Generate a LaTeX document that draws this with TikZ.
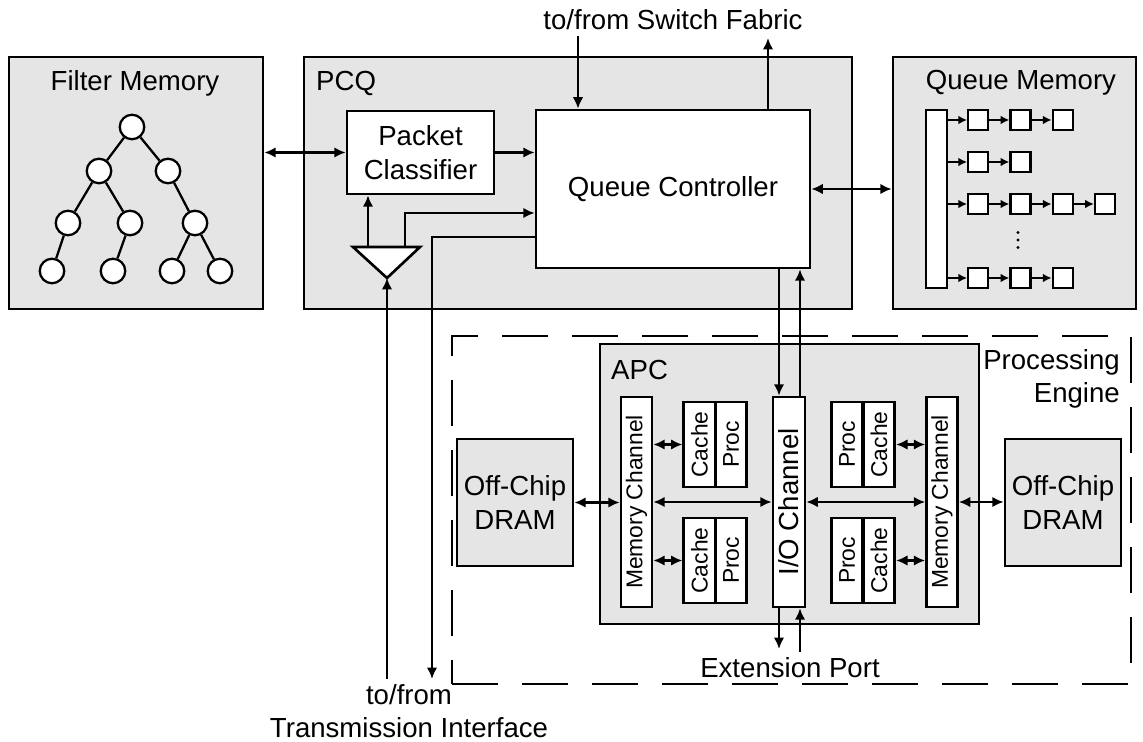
\documentclass[tikz,border=0pt]{standalone}
\usepackage{fontspec}
\setmainfont{Liberation Sans}
\usetikzlibrary{arrows.meta}

\begin{document}
\begin{tikzpicture}[
    font=\fontsize{15.7}{19}\selectfont,
    line width=1.4pt,
    region/.style={draw, fill=PanelGray, line width=1.5pt, inner sep=0pt, align=center},
    block/.style={draw, fill=white, line width=1.5pt, inner sep=0pt, align=center},
    tag/.style={inner sep=0pt},
    channel/.style={block, minimum width=0.62cm, minimum height=4.20cm},
    core/.style={block, font=\fontsize{13}{15}\selectfont, minimum width=0.63cm, minimum height=1.70cm},
    leaf/.style={circle, draw, fill=white, line width=1.3pt, minimum size=0.49cm, inner sep=0pt},
    cell/.style={draw, fill=white, line width=1.3pt, minimum size=0.40cm, inner sep=0pt},
    link/.style={-{Latex[length=6.5pt, width=6pt]}},
    duplex/.style={{Latex[length=6.5pt, width=6pt]}-{Latex[length=6.5pt, width=6pt]}},
    qlink/.style={-{Latex[length=5pt, width=5pt]}, line width=1.2pt},
]
    \definecolor{PanelGray}{RGB}{229,229,229}
    \useasboundingbox (0,0) rectangle (22.86,14.84);

    % Filter Memory
    \node[region, minimum width=5.08cm, minimum height=5.04cm] (fm) at (2.72,11.18) {};
    \node (fm-title) at (2.70,13.18) {Filter Memory};
    \node[leaf] (t0) at (2.64,12.30) {};
    \node[leaf] (t1) at (1.98,11.42) {};
    \node[leaf] (t2) at (3.36,11.42) {};
    \node[leaf] (t3) at (1.36,10.38) {};
    \node[leaf] (t4) at (2.60,10.38) {};
    \node[leaf] (t5) at (3.90,10.38) {};
    \node[leaf] (t6) at (1.04,9.42) {};
    \node[leaf] (t7) at (2.26,9.42) {};
    \node[leaf] (t8) at (3.44,9.42) {};
    \node[leaf] (t9) at (4.40,9.42) {};
    \foreach \a/\b in {t0/t1, t0/t2, t1/t3, t1/t4, t2/t5, t3/t6, t4/t7, t5/t8, t5/t9}
        \draw[line width=1.3pt] (\a) -- (\b);

    % PCQ
    \node[region, minimum width=10.96cm, minimum height=5.04cm] (pcq) at (11.56,11.18) {};
    \node[tag, anchor=west] (pcq-title) at (6.30,13.18) {PCQ};
    \node[block, minimum width=2.94cm, minimum height=1.66cm] (pc) at (8.41,11.79) {Packet\\Classifier};
    \node[block, minimum width=5.48cm, minimum height=3.16cm] (qc) at (13.46,11.06) {Queue Controller};
    \coordinate (amp-l) at (7.06,9.90);
    \coordinate (amp-r) at (8.40,9.90);
    \coordinate (amp-tip) at (7.74,9.28);
    \coordinate (amp-a) at (7.36,9.90);
    \coordinate (amp-b) at (8.10,9.90);
    \draw[fill=white, line width=1.5pt] (amp-l) -- (amp-r) -- (amp-tip) -- cycle;

    % Queue Memory
    \node[region, minimum width=4.86cm, minimum height=5.04cm] (qm) at (20.29,11.18) {};
    \node (qm-title) at (20.42,13.18) {Queue Memory};
    \node[block, minimum width=0.42cm, minimum height=3.56cm] (qbar) at (18.73,10.86) {};
    \foreach \row/\y/\n in {1/12.44/3, 2/11.60/2, 3/10.76/4, 4/9.28/3} {
        \foreach \k in {1,...,\n}
            \node[cell] (q\row-\k) at ({18.72+0.845*\k},\y) {};
        \draw[qlink] (qbar.east |- q\row-1) -- (q\row-1);
        \foreach \k [evaluate=\k as \j using int(\k-1)] in {2,...,\n}
            \draw[qlink] (q\row-\j) -- (q\row-\k);
    }
    \coordinate (qdots) at (20.36,10.04);
    \foreach \d in {-1,0,1}
        \fill (qdots) ++(0,0.15*\d) circle (0.9pt);

    % Processing Engine
    \node[draw, dash pattern=on 0.92cm off 0.48cm, line width=1.5pt,
        minimum width=13.58cm, minimum height=6.96cm] (pe) at (15.83,4.64) {};
    \node[tag, anchor=east, align=right] (pe-title) at (22.42,7.26) {Processing\\Engine};
    \node[region, minimum width=7.58cm, minimum height=5.60cm] (apc) at (15.79,5.16) {};
    \node[tag, anchor=west] (apc-title) at (12.20,7.44) {APC};
    \node[region, minimum width=2.32cm, minimum height=2.54cm] (dram-l) at (10.30,4.79) {Off-Chip\\DRAM};
    \node[region, minimum width=2.32cm, minimum height=2.54cm] (dram-r) at (21.26,4.79) {Off-Chip\\DRAM};
    \node[channel, font=\fontsize{13}{15}\selectfont] (mc-l) at (12.73,4.80) {\rotatebox{90}{Memory Channel}};
    \node[channel, minimum width=0.64cm] (io) at (15.78,4.80) {\rotatebox{90}{I/O Channel}};
    \node[channel, font=\fontsize{13}{15}\selectfont] (mc-r) at (18.84,4.80) {\rotatebox{90}{Memory Channel}};
    \node[core] (cache-lt) at (13.99,5.95) {\rotatebox{90}{Cache}};
    \node[core] (proc-lt) at (14.62,5.95) {\rotatebox{90}{Proc}};
    \node[core] (cache-lb) at (13.99,3.63) {\rotatebox{90}{Cache}};
    \node[core] (proc-lb) at (14.62,3.63) {\rotatebox{90}{Proc}};
    \node[core] (proc-rt) at (16.94,5.95) {\rotatebox{90}{Proc}};
    \node[core] (cache-rt) at (17.58,5.95) {\rotatebox{90}{Cache}};
    \node[core] (proc-rb) at (16.94,3.63) {\rotatebox{90}{Proc}};
    \node[core] (cache-rb) at (17.58,3.63) {\rotatebox{90}{Cache}};

    % Outside labels
    \node (sf) at (13.46,14.44) {to/from Switch Fabric};
    \node (ep) at (15.80,1.48) {Extension Port};
    \node[align=center] (tx) at (8.18,0.62) {to/from\\Transmission Interface};
    \coordinate (sf-in) at (11.56,14.12);
    \coordinate (sf-out) at (15.36,14.08);
    \coordinate (ep-out) at (15.58,1.86);
    \coordinate (ep-in) at (16.00,1.80);
    \coordinate (tx-up) at (7.74,1.26);
    \coordinate (tx-down) at (8.64,1.26);

    % Connections
    \draw[duplex] (fm.east |- pc.west) -- (pc.west);
    \draw[link] (pc.east) -- (pc.east -| qc.west);
    \draw[link] (amp-a) -- (amp-a |- pc.south);
    \draw[link] (amp-b) |- (qc.west |- 0,10.58);
    \draw[link] (qc.west |- 0,10.10) -| (tx-down);
    \draw[link] (tx-up) -- (amp-tip);
    \draw[link] (sf-in) -- (sf-in |- qc.north);
    \draw[link] (sf-out |- qc.north) -- (sf-out);
    \draw[duplex] (qc.east) -- (qc.east -| qm.west);
    \draw[link] (qc.south -| ep-out) -- (io.north -| ep-out);
    \draw[link] (io.north -| ep-in) -- (qc.south -| ep-in);
    \draw[link] (io.south -| ep-out) -- (ep-out);
    \draw[link] (ep-in) -- (io.south -| ep-in);
    \draw[duplex] (dram-l.east) -- (dram-l.east -| mc-l.west);
    \draw[duplex] (mc-l.east) -- (io.west);
    \draw[duplex] (io.east) -- (mc-r.west);
    \draw[duplex] (mc-r.east) -- (mc-r.east -| dram-r.west);
    \draw[duplex] (mc-l.east |- cache-lt) -- (cache-lt.west);
    \draw[duplex] (mc-l.east |- cache-lb) -- (cache-lb.west);
    \draw[duplex] (cache-rt.east) -- (cache-rt.east -| mc-r.west);
    \draw[duplex] (cache-rb.east) -- (cache-rb.east -| mc-r.west);
\end{tikzpicture}
\end{document}
